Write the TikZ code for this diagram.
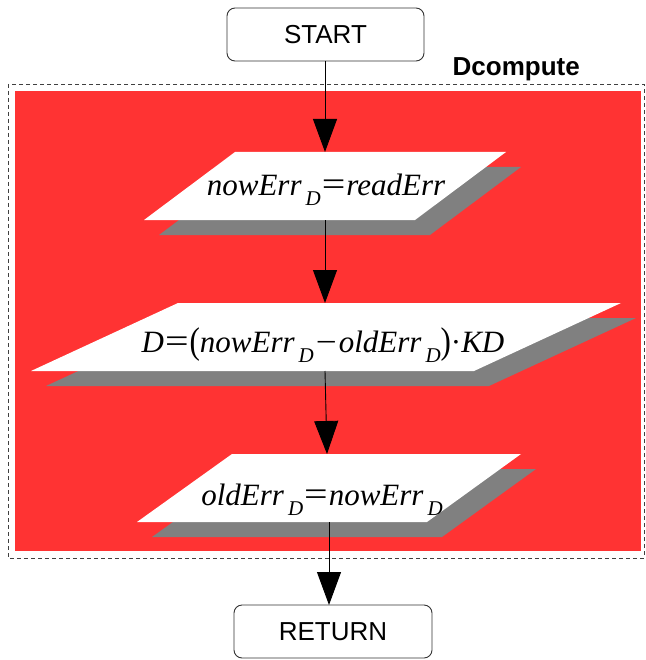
\documentclass[tikz,border=0pt]{standalone}
\usepackage{fontspec}
\setmainfont{Liberation Serif}
\newfontfamily\lsans{Liberation Sans}
\newfontfamily\lserif{Liberation Serif}
\usetikzlibrary{arrows.meta}
\definecolor{boxred}{HTML}{FF3333}
\definecolor{shade}{HTML}{808080}
\newcommand{\vI}[1]{{\lserif\itshape #1}}
\newcommand{\subD}{\hspace{4pt}\raisebox{-10pt}{\fontsize{21}{21}\selectfont\lserif\itshape D}}
\newcommand{\eqs}{\hspace{1pt}\scalebox{1.35}[1.1]{=}\hspace{1pt}}
\newcommand{\mns}{\hspace{2pt}\scalebox{1.2}[1]{\char"2212}\hspace{2pt}}
\begin{document}
\begin{tikzpicture}[x=1pt,y=-1pt,
  term/.style={draw=black!80,line width=0.9pt,rounded corners=8pt,fill=white},
  termtxt/.style={font=\lsans\fontsize{26}{26}\selectfont},
  eqtxt/.style={anchor=base,inner sep=0pt,font=\lserif\fontsize{31}{31}\selectfont},
  flow/.style={line width=0.9pt,-{Triangle[length=33pt,width=24pt]}},
  shadowfill/.style={fill=shade},
  parafill/.style={fill=white}]
\useasboundingbox (0,0) rectangle (645,660);
% frame
\draw[black!75,line width=0.8pt,dash pattern=on 4pt off 3pt] (8,84) rectangle (644,558);
\node[anchor=base east,inner sep=0pt,font=\lsans\bfseries\fontsize{26}{26}\selectfont] (lbl) at (580,76) {Dcompute};
\fill[boxred] (15,91) rectangle (641,551);
% start
\draw[term] (227,8) rectangle (424,61);
\node[termtxt] (start) at (325.5,35) {START};
\coordinate (startb) at (325,61);
% para 1
\fill[shadowfill] (250,167) -- (521,167) -- (430,235) -- (159,235) -- cycle;
\fill[parafill] (235,152) -- (506,152) -- (415,220) -- (144,220) -- cycle;
\coordinate (p1t) at (325,152);
\coordinate (p1b) at (325,220);
\node[eqtxt] (e1) at (326,196) {\vI{nowErr}\subD\eqs\vI{readErr}};
% para 2
\fill[shadowfill] (193,318) -- (636,318) -- (489,386) -- (46,386) -- cycle;
\fill[parafill] (178,303) -- (621,303) -- (474,371) -- (31,371) -- cycle;
\coordinate (p2t) at (325,303);
\coordinate (p2b) at (325,371);
\node[eqtxt] (e2) at (323,352) {\vI{D}\eqs\raisebox{-1pt}{\scalebox{1}[1.2]{(}}\vI{nowErr}\subD\mns\vI{oldErr}\subD\raisebox{-1pt}{\scalebox{1}[1.2]{)}}{\textperiodcentered}\vI{KD}};
% para 3
\fill[shadowfill] (247,469) -- (536,469) -- (442,537) -- (152,537) -- cycle;
\fill[parafill] (232,454) -- (521,454) -- (427,522) -- (137,522) -- cycle;
\coordinate (p3t) at (327,454);
\coordinate (p3b) at (329,522);
\node[eqtxt] (e3) at (322,505) {\vI{oldErr}\subD\eqs\vI{nowErr}\subD};
% return
\draw[term] (234,605) rectangle (432,658);
\node[termtxt] (ret) at (333,632) {RETURN};
\coordinate (rett) at (329,605);
% connectors
\draw[flow] (startb) -- (p1t);
\draw[flow] (p1b) -- (p2t);
\draw[flow] (p2b) -- (p3t);
\draw[flow] (p3b) -- (rett);
\end{tikzpicture}
\end{document}
